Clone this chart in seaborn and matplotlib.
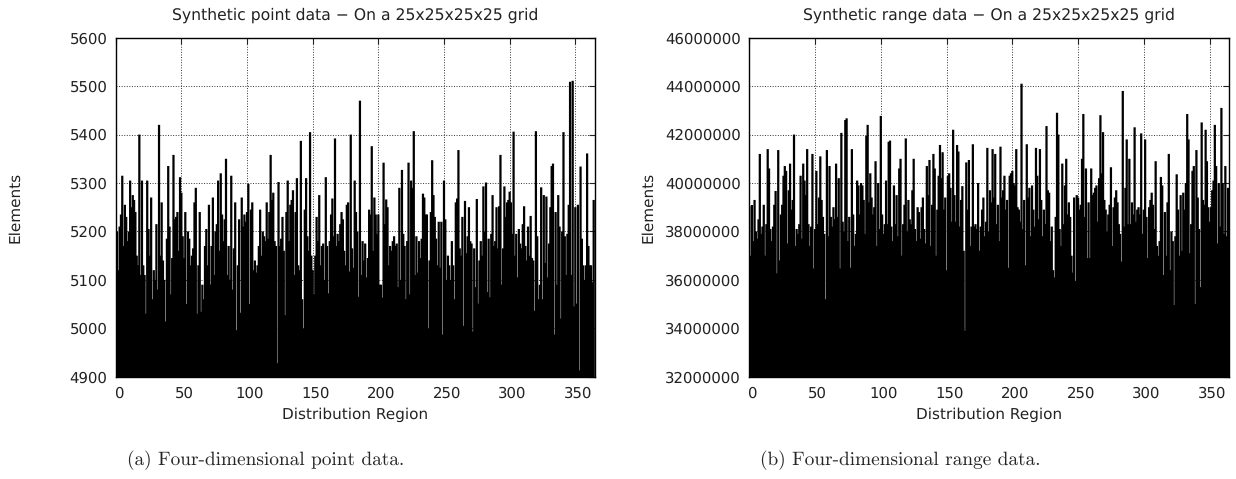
import seaborn as sns
import numpy as np
import matplotlib.pyplot as plt
from matplotlib.transforms import ScaledTranslation

# elements per distribution region
point_counts = [
    5245,5200,5120,5210,5235,5315,5170,5255,5230,5180,
    5200,5305,5250,5275,5265,5240,5150,5130,5400,5110,
    5305,5130,5110,5030,5305,5205,5150,5270,5060,5120,
    5100,5215,5080,5420,5150,5260,5140,5100,5014,5185,
    5335,5210,5070,5145,5358,5225,5230,5240,5160,5312,
    5280,5190,5145,5240,5050,5200,5185,5130,5150,5165,
    5260,5290,5030,5130,5240,5034,5090,5060,5170,5205,
    5130,5255,5090,5170,5270,5110,5200,5215,5305,5160,
    5320,5235,5180,5225,5350,5110,5170,5100,5315,5080,
    5165,5260,4996,5130,5225,5032,5270,5210,5235,5220,
    5240,5298,5050,5245,5260,5120,5140,5115,5130,5170,
    5245,5150,5200,5190,5180,5260,5185,5240,5358,5265,
    5280,5180,5170,4928,5302,5170,5185,5230,5160,5027,
    5240,5305,5180,5255,5265,5285,5110,5240,5310,5130,
    5120,5387,5060,5000,5245,5310,5190,5160,5405,5150,
    5120,5070,5150,5230,5180,5275,5130,5170,5175,5100,
    5312,5170,5072,5180,5235,5268,5190,5392,5170,5195,
    5180,5215,5240,5225,5160,5130,5255,5260,5117,5400,
    5165,5125,5305,5240,5200,5065,5470,5110,5180,5140,
    5175,5105,5145,5245,5235,5376,5160,5270,5235,5195,
    5235,5090,5090,5063,5342,5215,5266,5250,5130,5170,
    5160,5180,5190,5170,5175,5085,5290,5100,5327,5195,
    5170,5060,5180,5342,5070,5305,5290,5407,5110,5190,
    5115,5180,5145,5185,5278,5270,5235,5235,4999,5140,
    5240,5347,5275,5230,5185,5130,5220,5125,5220,4987,
    5305,5225,5100,5150,5130,5100,5180,5130,5060,5260,
    5268,5368,5165,5150,5230,5005,5263,5155,5190,5250,
    5180,5175,4993,5165,5085,5267,5051,5140,5180,5150,
    5293,5200,5301,5075,5185,5064,5195,5275,5170,5180,
    5250,5165,5252,5358,5090,5165,5293,5230,5260,5265,
    5282,5260,5195,5406,5150,5195,5105,5205,5175,5165,
    5215,5252,5170,5140,5210,5150,5232,5145,5140,5036,
    5407,5190,5060,5090,5291,5060,5275,5135,5272,5105,
    5175,5250,5335,5340,4987,5240,5090,5275,5210,5020,
    5200,5405,5190,5110,5195,5255,5509,5110,5511,5045,
    5250,5051,5255,4913,5334,5185,5130,5100,5130,5361,
    5170,5130,5130,5095,5265,
]

# in millions
range_counts = [
    39.05,37.0,39.09,37.6,39.3,38.0,37.7,38.5,41.2,37.9,
    38.2,39.1,37.0,38.3,41.4,40.6,38.1,37.6,38.2,39.1,
    39.67,36.27,41.36,36.8,38.7,39.1,40.3,40.7,40.5,37.5,
    39.7,40.8,38.9,39.3,42.0,37.4,38.1,37.9,38.3,40.3,
    37.7,40.8,40.1,39.5,41.4,38.3,37.4,38.2,41.2,36.47,
    38.1,40.5,38.3,39.4,41.1,39.3,38.6,37.9,35.2,41.36,
    37.8,40.7,38.6,38.2,39.0,38.5,40.8,38.6,40.2,36.47,
    42.07,38.4,38.0,42.6,42.67,37.6,38.6,36.5,41.4,38.7,
    37.4,37.9,40.1,39.9,38.7,40.0,39.9,39.3,37.9,41.95,
    42.4,39.2,40.4,39.4,38.7,39.0,40.9,37.4,40.0,38.1,
    42.77,38.7,37.9,38.3,40.1,38.3,41.7,41.75,38.2,37.6,
    39.9,38.3,39.5,37.8,40.6,41.0,37.0,38.3,39.1,41.84,
    38.0,39.3,38.5,38.3,39.7,41.0,38.1,37.6,39.0,38.8,
    37.7,39.0,39.4,38.1,37.5,40.7,39.5,40.95,37.4,39.1,
    41.2,40.6,37.0,38.9,40.3,41.57,40.2,41.27,38.9,39.4,
    36.4,40.3,40.4,39.8,38.4,42.2,39.5,38.4,41.57,41.3,
    38.2,39.3,39.87,37.2,33.9,40.85,38.9,40.95,37.4,38.2,
    41.6,38.2,38.3,38.1,40.0,37.2,38.2,38.9,39.4,37.8,
    38.4,41.45,38.0,39.7,39.2,41.4,39.4,41.2,38.3,39.1,
    37.6,41.5,39.4,39.7,40.3,38.9,39.3,36.5,40.3,40.4,
    40.5,40.0,39.9,41.4,39.0,38.9,38.4,44.1,38.1,39.3,
    36.6,41.6,39.4,39.8,37.8,39.9,38.9,38.2,41.45,40.3,
    38.5,41.4,39.3,37.8,38.9,38.3,42.35,39.7,39.6,37.6,
    38.2,36.4,36.1,38.6,42.9,42.0,38.1,37.4,40.8,38.3,
    39.9,41.0,38.7,39.2,38.6,37.0,36.3,39.4,35.95,39.5,
    39.4,38.9,39.1,41.0,42.85,38.6,40.6,36.9,39.2,36.9,
    40.6,39.5,39.6,39.8,39.9,38.4,40.2,42.8,40.4,42.1,
    39.3,38.9,38.0,38.7,39.1,40.65,37.4,39.0,39.4,39.7,
    39.2,38.3,37.9,36.75,43.8,38.2,39.8,41.8,38.3,41.0,
    38.3,39.2,38.7,42.3,38.4,38.9,39.0,38.7,42.05,37.9,
    38.9,41.8,38.6,36.9,39.0,39.3,39.6,39.1,38.1,40.9,
    37.4,37.0,37.6,40.25,39.9,36.2,38.8,37.0,39.2,41.2,
    36.4,38.0,37.6,34.96,37.8,40.36,38.9,37.0,39.5,37.2,
    39.6,38.9,40.0,42.85,41.8,37.1,38.3,40.5,40.7,35.0,
    41.36,39.4,38.1,35.7,42.5,39.3,39.1,42.2,40.9,39.0,
    38.4,39.0,39.7,40.1,42.4,40.7,37.5,40.0,38.2,43.1,
    40.0,37.9,40.7,37.8,39.8,
]

regions = np.arange(len(point_counts))
x_ticks = [0, 50, 100, 150, 200, 250, 300, 350]
point_ticks = [4900, 5000, 5100, 5200, 5300, 5400, 5500, 5600]
range_ticks = [32000000, 34000000, 36000000, 38000000, 40000000, 42000000, 44000000, 46000000]

W, H = 1236, 479
sns.set_style("white")
plt.rcParams['font.family'] = ['DejaVu Sans']
plt.rcParams['text.hinting'] = 'none'
fig = plt.figure(figsize=(W / 100, H / 100), dpi=100)


def draw(box, values, yticks, title):
    ax = fig.add_axes([box[0] / W, 1 - 376.7 / H, (box[1] - box[0]) / W, 339 / H])
    sns.barplot(x=regions, y=values, native_scale=True, color='black', saturation=1,
                width=1.7, linewidth=0, ax=ax)
    for bar in ax.patches:
        bar.set_snap(False)
    ax.set_xlim(0, 365)
    ax.set_ylim(yticks[0], yticks[-1])
    ax.set_xticks(x_ticks)
    ax.set_yticks(yticks)
    ax.ticklabel_format(axis='y', style='plain', useOffset=False)
    ax.grid(True, linestyle=':', color='#333333', linewidth=0.7)
    ax.set_axisbelow(True)
    ax.tick_params(direction='in', top=True, right=True, length=4, width=0.8,
                   labelsize=10.7, colors='#222222', pad=6)
    ax.tick_params(axis='x', pad=7)
    # x labels sit a little right of their ticks in the original
    shift = ScaledTranslation(2.7 / 100, 0, fig.dpi_scale_trans)
    for lab in ax.get_xticklabels():
        lab.set_transform(lab.get_transform() + shift)
    ax.set_title(title, fontsize=11.25, color='#222222', pad=12.7)
    ax.set_xlabel('Distribution Region', fontsize=11, color='#222222', labelpad=5)
    for s in ax.spines.values():
        s.set_visible(True)
        s.set_color('black')
        s.set_linewidth(1)
    return ax


draw((115.7, 595), point_counts, point_ticks, 'Synthetic point data \u2212 On a 25x25x25x25 grid')
draw((749.3, 1229.3), [v * 1e6 for v in range_counts], range_ticks,
     'Synthetic range data \u2212 On a 25x25x25x25 grid')

fig.text(15 / W, 1 - 207 / H, 'Elements', rotation=90, ha='center', va='center', fontsize=11, color='#222222')
fig.text(648 / W, 1 - 207 / H, 'Elements', rotation=90, ha='center', va='center', fontsize=11, color='#222222')
fig.text(266 / W, 1 - 460 / H, '(a) Four-dimensional point data.', family='cmr10', ha='center', va='center', fontsize=13.9)
fig.text(900 / W, 1 - 460 / H, '(b) Four-dimensional range data.', family='cmr10', ha='center', va='center', fontsize=13.9)

fig.savefig('out.png', dpi=100)
